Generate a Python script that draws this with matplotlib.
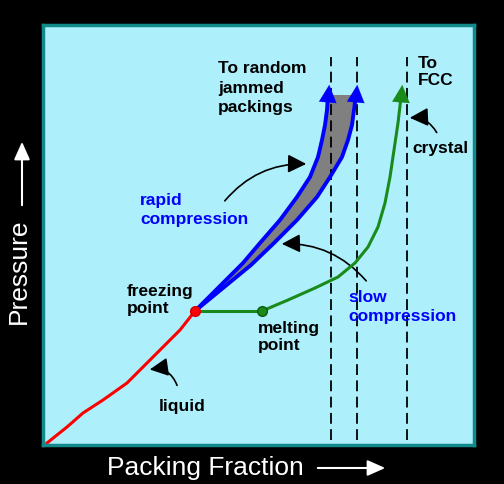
import numpy as np
import matplotlib.pyplot as plt
from matplotlib.patches import FancyArrowPatch

plt.rcParams['font.family'] = ['Liberation Sans', 'DejaVu Sans']

# Curves (arbitrary units: packing fraction, pressure)
liquid_x = [4, 24, 40, 60, 84, 100, 114, 127, 137, 152]
liquid_y = [2, 18, 32, 45, 62, 78, 92, 105, 115, 134]

freeze_pt = (152, 134)
melt_pt = (219, 134)

crystal_x = [219, 245, 272, 295, 312, 325, 335, 342, 347, 351, 355, 358]
crystal_y = [134, 145, 157, 168, 182, 198, 218, 242, 268, 295, 322, 348]

rapid_x = [152, 176, 200, 217, 237, 254, 267, 275, 279, 282, 284, 285]
rapid_y = [134, 158, 182, 202, 225, 248, 268, 288, 305, 320, 335, 350]

slow_x = [152, 208, 231, 254, 274, 287, 299, 305, 309, 311, 313]
slow_y = [134, 180, 202, 225, 248, 268, 288, 305, 320, 335, 350]

# vertical limits: two random jammed packings and FCC
limits_x = [288, 314, 364]
arrow_top = 363

BG = '#adf0fc'
fig = plt.figure(figsize=(5.04, 4.84), dpi=100, facecolor='black')
ax = fig.add_axes([43 / 504, 39 / 484, 431 / 504, 420 / 484])
ax.set_facecolor(BG)
ax.set_xlim(0, 431)
ax.set_ylim(0, 420)
ax.set_xticks([])
ax.set_yticks([])
for s in ax.spines.values():
    s.set_color('#138a8a')
    s.set_linewidth(2.5)

# dashed asymptotes
for xv in limits_x:
    ax.plot([xv, xv], [5, 388], color='black', lw=1.3, ls=(0, (6, 3)))

# grey band between the two compression paths
band_x = rapid_x + slow_x[::-1]
band_y = rapid_y + slow_y[::-1]
ax.fill(band_x, band_y, color='#808080', lw=0)

ax.plot(liquid_x, liquid_y, color='#ff0000', lw=2.2, solid_joinstyle='round')
ax.plot([freeze_pt[0], melt_pt[0]], [freeze_pt[1], melt_pt[1]], color='#1a8a1a', lw=2.2)
ax.plot(crystal_x, crystal_y, color='#1a8a1a', lw=2.2, solid_joinstyle='round')
ax.plot(rapid_x, rapid_y, color='#0000ff', lw=2.8, solid_joinstyle='round')
ax.plot(slow_x, slow_y, color='#0000ff', lw=2.8, solid_joinstyle='round')

# arrowheads at the top of the paths
for xs, ys, c in [(rapid_x, rapid_y, '#0000ff'), (slow_x, slow_y, '#0000ff'),
                  (crystal_x, crystal_y, '#1a8a1a')]:
    ax.annotate('', xy=(xs[-1] + 1.5, arrow_top), xytext=(xs[-1], ys[-1] - 4),
                arrowprops=dict(arrowstyle='-|>,head_length=0.9,head_width=0.45',
                                color=c, lw=0.1, mutation_scale=14))

ax.plot(*freeze_pt, 'o', color='#ff0000', ms=7, mec='#cc0000', zorder=5)
ax.plot(*melt_pt, 'o', color='#1a8a1a', ms=7, mec='#0d5c0d', zorder=5)

# labels
fs = 12.5
ax.text(175, 357, 'To random\njammed\npackings', fontsize=fs, fontweight='bold',
        va='center', ha='left', linespacing=1.35)
ax.text(375, 373, 'To\nFCC', fontsize=fs, fontweight='bold', va='center', linespacing=1.2)
ax.text(369, 297, 'crystal', fontsize=fs, fontweight='bold', va='center')
ax.text(97, 235, 'rapid\ncompression', fontsize=fs, fontweight='bold', color='#0000ff',
        va='center', linespacing=1.3)
ax.text(305, 138, 'slow\ncompression', fontsize=fs, fontweight='bold', color='#0000ff',
        va='center', linespacing=1.3)
ax.text(84, 145, 'freezing\npoint', fontsize=fs, fontweight='bold', va='center',
        linespacing=1.15)
ax.text(215, 108, 'melting\npoint', fontsize=fs, fontweight='bold', va='center',
        linespacing=1.15)
ax.text(116, 39, 'liquid', fontsize=fs, fontweight='bold', va='center')

# curved pointer arrows
pointers = [((180, 242), (266, 281), -0.25),
            ((325, 162), (236, 201), 0.25),
            ((395, 310), (364, 327), 0.35),
            ((135, 57), (104, 75), 0.45)]
for tail, head, rad in pointers:
    ax.add_patch(FancyArrowPatch(tail, head, connectionstyle=f'arc3,rad={rad}',
                                 arrowstyle='-|>,head_length=0.8,head_width=0.4',
                                 mutation_scale=14, color='black', lw=1.2))

# axis titles outside the plot
fig.text(107 / 504, 16 / 484, 'Packing Fraction', color='white', fontsize=19,
         ha='left', va='center')
fig.text(19 / 504, 213 / 484, 'Pressure', color='white', fontsize=19,
         rotation=90, ha='center', va='center')
fig.patches.append(FancyArrowPatch((315, 16), (388, 16), transform=None,
                                   arrowstyle='-|>,head_length=0.9,head_width=0.4',
                                   mutation_scale=12, color='white', lw=1.5))
fig.patches.append(FancyArrowPatch((22, 276), (22, 345), transform=None,
                                   arrowstyle='-|>,head_length=0.9,head_width=0.4',
                                   mutation_scale=12, color='white', lw=1.5))

fig.savefig('out.png', dpi=100, facecolor='black')
